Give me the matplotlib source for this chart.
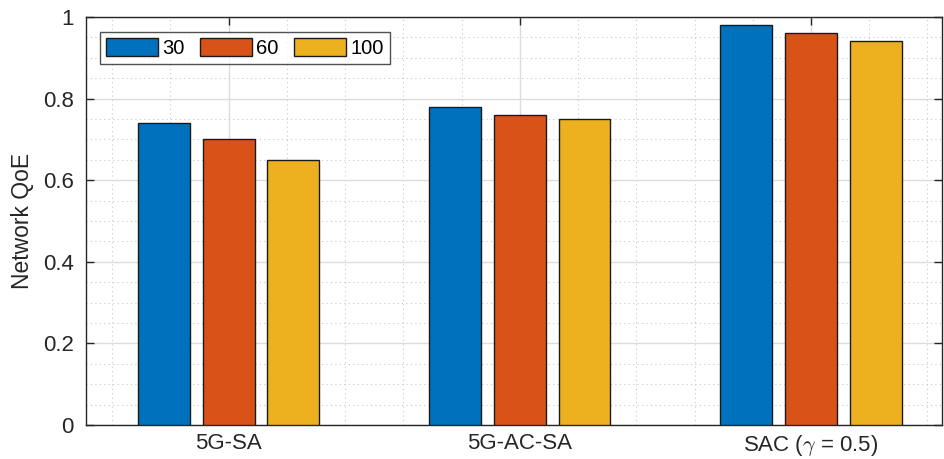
import numpy as np
import matplotlib
matplotlib.use("Agg")
import matplotlib.pyplot as plt
from matplotlib.ticker import MultipleLocator

plt.rcParams['font.family'] = ['Liberation Sans', 'DejaVu Sans']
plt.rcParams['mathtext.fontset'] = 'cm'

# data
categories = ['5G-SA', '5G-AC-SA', r'SAC ($\gamma$ = 0.5)']
series_names = ['30', '60', '100']
qoe_30 = [0.74, 0.78, 0.98]
qoe_60 = [0.70, 0.76, 0.96]
qoe_100 = [0.65, 0.75, 0.94]
colors = ['#0072BD', '#D95319', '#EDB120']

fig = plt.figure(figsize=(9.44, 4.59), dpi=100)
ax = fig.add_axes([86 / 944, 34 / 459, 856 / 944, 408 / 459])

x = np.arange(1, len(categories) + 1)
offsets = [-0.2222, 0.0, 0.2222]
width = 0.178
for vals, off, col, name in zip([qoe_30, qoe_60, qoe_100], offsets, colors, series_names):
    ax.bar(x + off, vals, width, color=col, edgecolor='#1a1a1a', linewidth=1.0,
           label=name, zorder=3)

ax.set_xlim(0.51, 3.45)
ax.set_ylim(0, 1)
ax.set_xticks(x)
ax.set_xticklabels(categories)
ax.xaxis.set_minor_locator(MultipleLocator(0.2))
ax.yaxis.set_minor_locator(MultipleLocator(0.05))
ax.set_yticks([0, 0.2, 0.4, 0.6, 0.8, 1.0])
ax.set_yticklabels(['0', '0.2', '0.4', '0.6', '0.8', '1'])

ax.grid(True, which='major', color='#dcdcdc', linewidth=1.0, zorder=0)
ax.grid(True, which='minor', color='#c8c8c8', linestyle=(0, (1, 3)), linewidth=0.8, zorder=0)
ax.set_axisbelow(True)

ax.tick_params(which='both', direction='in', top=True, right=True, colors='#262626',
               labelsize=16, labelcolor='#262626')
ax.tick_params(which='major', length=6, width=1)
ax.tick_params(which='minor', length=0)
ax.tick_params(axis='x', pad=6)
ax.tick_params(axis='y', pad=9)
for s in ax.spines.values():
    s.set_color('#262626')
    s.set_linewidth(1.0)

ax.set_ylabel('Network QoE', fontsize=16.5, color='#262626', labelpad=6)

leg = ax.legend(loc='upper left', ncol=3, fontsize=14.5, frameon=True, fancybox=False,
                edgecolor='#262626', handlelength=2.6, handleheight=0.95,
                handletextpad=0.2, columnspacing=0.75, borderpad=0.3,
                borderaxespad=0.0, bbox_to_anchor=(0.0164, 0.963))
leg.get_frame().set_linewidth(1.0)

fig.savefig('out.png', dpi=100)
